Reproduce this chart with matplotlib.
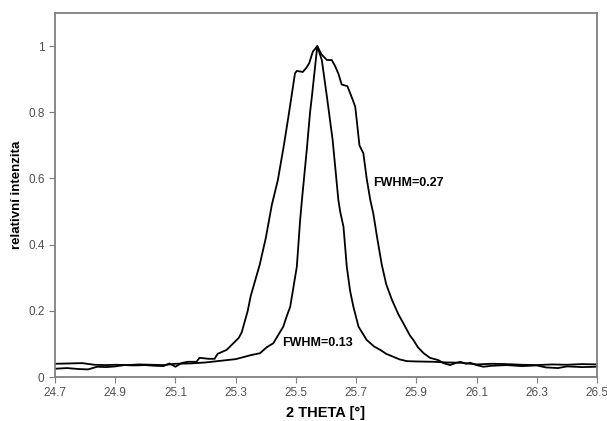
import numpy as np
import matplotlib
matplotlib.use('Agg')
import matplotlib.pyplot as plt

plt.rcParams['font.family'] = ['Liberation Sans', 'DejaVu Sans']

# ── Data ──────────────────────────────────────────────────────────────────────
broad_x = [24.70, 24.74, 24.78, 24.81, 24.84, 24.87, 24.90, 24.93, 24.96, 25.00,
           25.03, 25.06, 25.08, 25.10, 25.12, 25.14, 25.17, 25.18, 25.21, 25.23,
           25.24, 25.27, 25.29, 25.31, 25.32, 25.34, 25.35, 25.38, 25.40, 25.42,
           25.44, 25.46, 25.475, 25.497, 25.503, 25.523, 25.535, 25.544, 25.556, 25.571,
           25.585, 25.603, 25.619, 25.630, 25.641, 25.652, 25.671, 25.689, 25.697, 25.702,
           25.711, 25.724, 25.735, 25.747, 25.757, 25.770, 25.785, 25.800, 25.819, 25.840,
           25.857, 25.879, 25.890, 25.905, 25.924, 25.945, 25.973, 25.990, 26.012, 26.030,
           26.046, 26.065, 26.079, 26.100, 26.123, 26.15, 26.20, 26.25, 26.30, 26.33,
           26.37, 26.40, 26.45, 26.50]
broad_y = [0.025, 0.027, 0.024, 0.023, 0.031, 0.030, 0.032, 0.036, 0.035, 0.036,
           0.034, 0.033, 0.041, 0.031, 0.042, 0.046, 0.046, 0.058, 0.055, 0.055,
           0.070, 0.082, 0.100, 0.118, 0.135, 0.200, 0.245, 0.340, 0.420, 0.520,
           0.595, 0.700, 0.786, 0.918, 0.925, 0.922, 0.935, 0.948, 0.983, 1.000,
           0.975, 0.958, 0.958, 0.940, 0.917, 0.884, 0.879, 0.837, 0.817, 0.776,
           0.700, 0.676, 0.600, 0.535, 0.494, 0.420, 0.340, 0.280, 0.233, 0.190,
           0.162, 0.125, 0.112, 0.090, 0.072, 0.058, 0.051, 0.042, 0.036, 0.042,
           0.046, 0.040, 0.043, 0.036, 0.031, 0.034, 0.036, 0.033, 0.035, 0.029,
           0.027, 0.032, 0.030, 0.031]

narrow_x = [24.70, 24.75, 24.79, 24.83, 24.87, 24.90, 24.94, 24.98, 25.02, 25.06,
            25.10, 25.15, 25.20, 25.25, 25.30, 25.35, 25.381, 25.403, 25.425, 25.44,
            25.458, 25.47, 25.481, 25.503, 25.514, 25.520, 25.536, 25.547, 25.553, 25.571,
            25.586, 25.603, 25.622, 25.641, 25.647, 25.658, 25.669, 25.680, 25.691, 25.708,
            25.735, 25.760, 25.78, 25.80, 25.824, 25.845, 25.868, 25.90, 25.957, 26.00,
            26.05, 26.10, 26.15, 26.20, 26.25, 26.30, 26.35, 26.40, 26.45, 26.50]
narrow_y = [0.040, 0.041, 0.042, 0.037, 0.036, 0.037, 0.036, 0.038, 0.037, 0.036,
            0.040, 0.041, 0.044, 0.049, 0.054, 0.066, 0.072, 0.090, 0.102, 0.125,
            0.152, 0.185, 0.212, 0.333, 0.474, 0.535, 0.686, 0.800, 0.847, 1.000,
            0.958, 0.847, 0.716, 0.535, 0.500, 0.454, 0.333, 0.260, 0.212, 0.152,
            0.112, 0.092, 0.082, 0.070, 0.061, 0.053, 0.048, 0.047, 0.046, 0.044,
            0.043, 0.038, 0.040, 0.039, 0.037, 0.036, 0.038, 0.037, 0.039, 0.038]

x_ticks = [24.7, 24.9, 25.1, 25.3, 25.5, 25.7, 25.9, 26.1, 26.3, 26.5]
y_ticks = [0, 0.2, 0.4, 0.6, 0.8, 1.0]
y_tick_labels = ['0', '0.2', '0.4', '0.6', '0.8', '1']

# ── Plot ──────────────────────────────────────────────────────────────────────
fig = plt.figure(figsize=(6.07, 4.21), dpi=100)
ax = fig.add_axes([0.0906, 0.1045, 0.893, 0.8645])

ax.plot(broad_x, broad_y, color='black', lw=1.3)
ax.plot(narrow_x, narrow_y, color='black', lw=1.3)

ax.text(25.756, 0.585, 'FWHM=0.27', fontsize=9, fontweight='bold',
        ha='left', va='center')
ax.text(25.453, 0.104, 'FWHM=0.13', fontsize=9, fontweight='bold',
        ha='left', va='center')

ax.set_xlim(24.7, 26.5)
ax.set_ylim(0, 1.1)
ax.set_xticks(x_ticks)
ax.set_xticklabels([f'{v:.1f}' for v in x_ticks])
ax.set_yticks(y_ticks)
ax.set_yticklabels(y_tick_labels)
ax.tick_params(direction='out', length=4, color='#808080', labelsize=8.5,
               labelcolor='#505050')

for sp in ax.spines.values():
    sp.set_color('#808080')
    sp.set_linewidth(1.3)

ax.set_xlabel('2 THETA [°]', fontsize=10.5, fontweight='bold', labelpad=5)
ax.set_ylabel('relativní intenzita', fontsize=9.5, fontweight='bold', labelpad=4)

plt.savefig('out.png', dpi=100)
plt.close()
